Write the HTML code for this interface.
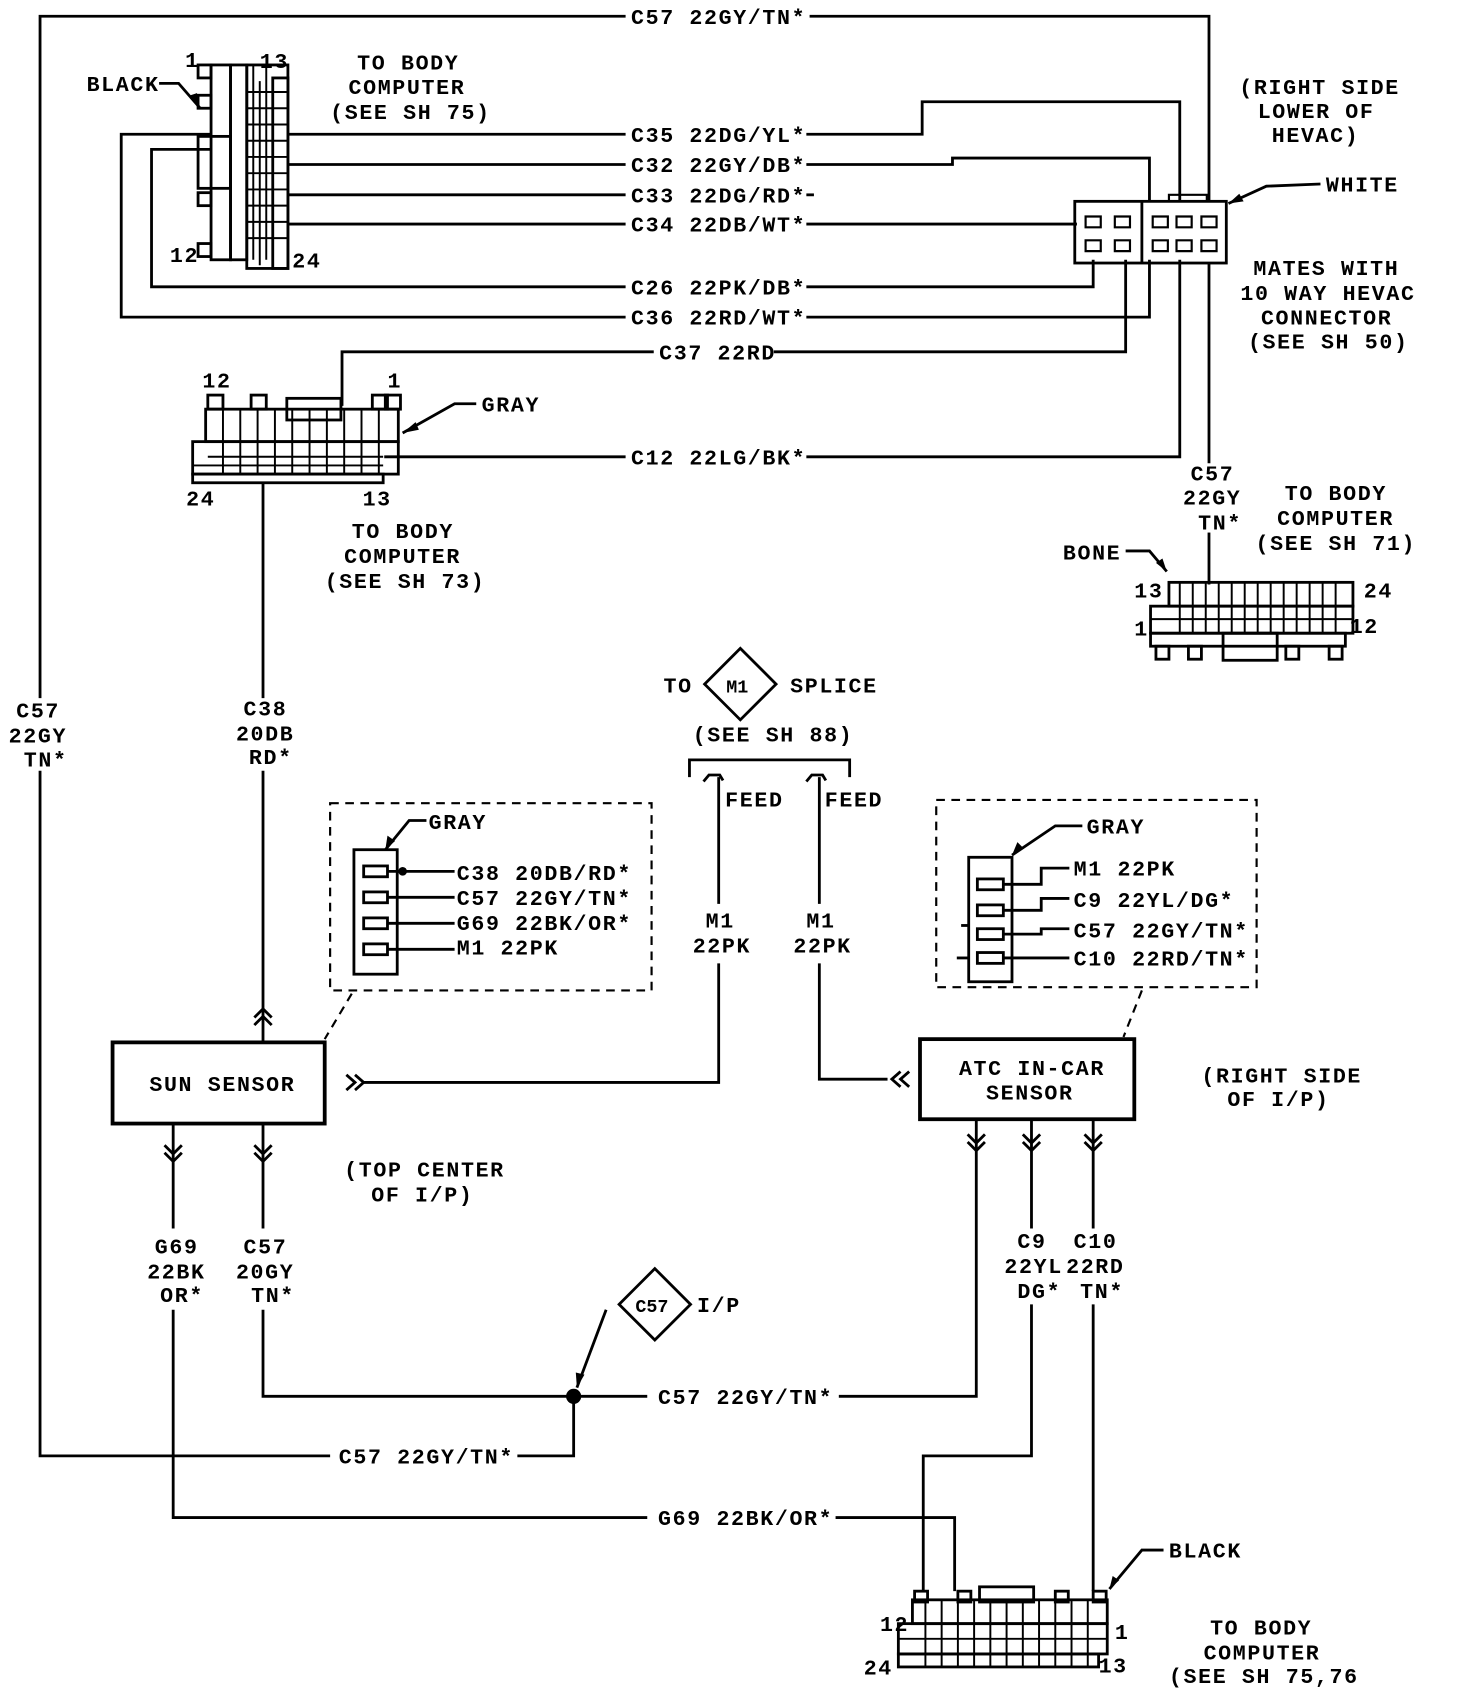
<!DOCTYPE html>
<html><head><meta charset="utf-8"><style>
html,body{margin:0;padding:0;background:#fff}
svg{display:block}
text{font-family:"Liberation Mono",monospace;font-size:20px;font-weight:bold;letter-spacing:1.5px;fill:#000}
</style></head><body>
<svg width="1472" height="1694" viewBox="0 0 1360 1565" preserveAspectRatio="none" xmlns="http://www.w3.org/2000/svg">
<rect width="1360" height="1565" fill="#fff"/>
<g fill="none" stroke="#000" stroke-width="2.6">
<polyline points="578,15 37,15 37,645"/>
<polyline points="748,15 1117,15 1117,185"/>
<polyline points="37,712 37,1345 305,1345"/>
<polyline points="478,1345 530,1345 530,1290"/>
<line x1="265" y1="124" x2="578" y2="124"/><polyline points="745,124 852,124 852,94 1090,94 1090,185"/>
<line x1="265" y1="152" x2="578" y2="152"/><polyline points="745,152 880,152 880,146 1062,146 1062,185"/>
<line x1="265" y1="180" x2="578" y2="180"/><line x1="745" y1="180" x2="752" y2="180"/>
<line x1="265" y1="207" x2="578" y2="207"/><line x1="745" y1="207" x2="995" y2="207"/>
<polyline points="578,265 140,265 140,138 195,138"/><polyline points="745,265 1010,265 1010,240"/>
<polyline points="578,293 112,293 112,124 195,124"/><polyline points="745,293 1062,293 1062,240"/>
<polyline points="316,375 316,325 604,325"/><polyline points="715,325 1040,325 1040,240"/>
<polyline points="355,422 578,422"/><polyline points="745,422 1090,422 1090,240"/>
<line x1="1117" y1="243" x2="1117" y2="428"/><line x1="1117" y1="492" x2="1117" y2="540"/>
<line x1="243" y1="445" x2="243" y2="645"/><line x1="243" y1="712" x2="243" y2="963"/>
<polyline points="235,940 243,932 251,940"/><polyline points="235,947 243,939 251,947"/>
<rect x="104" y="963" width="196" height="75" stroke-width="3.5"/>
<polyline points="320,993 328,1000 320,1007"/><polyline points="328,993 336,1000 328,1007"/>
<polyline points="336,1000 664,1000 664,890"/>
<polyline points="637,718 637,702 785,702 785,718"/>
<path d="M650,722 l5,-6 l10,0 l3,5"/><path d="M745,722 l5,-6 l10,0 l3,5"/>
<line x1="664" y1="718" x2="664" y2="835"/>
<line x1="757" y1="718" x2="757" y2="835"/><polyline points="757,890 757,997 820,997"/>
<polyline points="832,990 824,997 832,1004"/><polyline points="840,990 832,997 840,1004"/>
<rect x="850" y="960" width="198" height="74" stroke-width="3.5"/>
<polyline points="152,1058 160,1066 168,1058"/><polyline points="152,1065 160,1073 168,1065"/>
<line x1="160" y1="1038" x2="160" y2="1135"/><polyline points="160,1210 160,1402 598,1402"/>
<polyline points="772,1402 882,1402 882,1470"/>
<polyline points="235,1058 243,1066 251,1058"/><polyline points="235,1065 243,1073 251,1065"/>
<line x1="243" y1="1038" x2="243" y2="1135"/><polyline points="243,1210 243,1290 598,1290"/>
<polyline points="775,1290 902,1290 902,1034"/>
<polyline points="894,1048 902,1056 910,1048"/><polyline points="894,1055 902,1063 910,1055"/>
<line x1="953" y1="1034" x2="953" y2="1135"/><polyline points="953,1205 953,1345 853,1345 853,1470"/>
<polyline points="945,1048 953,1056 961,1048"/><polyline points="945,1055 953,1063 961,1055"/>
<line x1="1010" y1="1034" x2="1010" y2="1135"/><line x1="1010" y1="1205" x2="1010" y2="1470"/>
<polyline points="1002,1048 1010,1056 1018,1048"/><polyline points="1002,1055 1010,1063 1018,1055"/>
<polygon points="684,599 717,632 684,665 651,632"/>
<polygon points="605,1172 638,1205 605,1238 572,1205"/>
<line x1="560" y1="1210" x2="533" y2="1282"/>
<rect x="305" y="742" width="297" height="173" stroke-dasharray="8,6" stroke-width="2"/>
<rect x="865" y="739" width="296" height="173" stroke-dasharray="8,6" stroke-width="2"/>
<line x1="325" y1="918" x2="300" y2="960" stroke-dasharray="8,6" stroke-width="2"/>
<line x1="1055" y1="915" x2="1038" y2="958" stroke-dasharray="8,6" stroke-width="2"/>
<rect x="327" y="785" width="40" height="115"/>
<rect x="336" y="800" width="22" height="10"/><rect x="336" y="824" width="22" height="10"/><rect x="336" y="848" width="22" height="10"/><rect x="336" y="872" width="22" height="10"/>
<line x1="358" y1="805" x2="420" y2="805"/><line x1="358" y1="829" x2="420" y2="829"/><line x1="358" y1="853" x2="420" y2="853"/><line x1="358" y1="877" x2="420" y2="877"/>
<polyline points="394,758 378,758 356,785"/>
<rect x="895" y="792" width="40" height="115"/>
<rect x="903" y="812" width="24" height="10"/><rect x="903" y="836" width="24" height="10"/><rect x="903" y="858" width="24" height="10"/><rect x="903" y="880" width="24" height="10"/>
<polyline points="927,817 962,817 962,802 988,802"/><polyline points="927,841 962,841 962,830 988,830"/>
<polyline points="927,863 962,863 962,858 988,858"/><line x1="927" y1="885" x2="988" y2="885"/>
<polyline points="1000,763 975,763 935,790"/>
<line x1="888" y1="855" x2="895" y2="855"/><line x1="884" y1="885" x2="895" y2="885"/>
<polyline points="147,77 165,77 185,100"/>
<polyline points="440,373 420,373 372,400"/>
<polyline points="1220,170 1170,172 1135,188"/>
<polyline points="1040,509 1062,509 1078,528"/>
<polyline points="1075,1432 1055,1432 1025,1468"/>
<rect x="195" y="60" width="18" height="180"/><rect x="213" y="60" width="15" height="180"/>
<rect x="228" y="60" width="38" height="188"/><rect x="252" y="72" width="14" height="176"/>
<rect x="183" y="60" width="12" height="12"/><rect x="183" y="88" width="12" height="12"/><rect x="183" y="178" width="12" height="12"/><rect x="183" y="225" width="12" height="12"/>
<rect x="183" y="126" width="30" height="48"/>
<rect x="190" y="378" width="178" height="30"/><rect x="178" y="408" width="190" height="30"/><rect x="178" y="438" width="176" height="8"/>
<rect x="192" y="365" width="14" height="13"/><rect x="232" y="365" width="14" height="13"/><rect x="344" y="365" width="14" height="13"/><rect x="356" y="365" width="14" height="13"/>
<rect x="265" y="368" width="50" height="20"/>
<rect x="993" y="186" width="140" height="57"/><line x1="1055" y1="186" x2="1055" y2="243"/>
<rect x="1080" y="538" width="170" height="22"/><rect x="1063" y="560" width="187" height="25"/><rect x="1063" y="585" width="180" height="12"/>
<rect x="1068" y="597" width="12" height="12"/><rect x="1098" y="597" width="12" height="12"/><rect x="1130" y="585" width="50" height="25"/><rect x="1188" y="597" width="12" height="12"/><rect x="1228" y="597" width="12" height="12"/>
<rect x="843" y="1478" width="180" height="22"/><rect x="830" y="1500" width="193" height="28"/><rect x="830" y="1528" width="185" height="12"/>
<rect x="845" y="1470" width="12" height="10"/><rect x="885" y="1470" width="12" height="10"/><rect x="905" y="1466" width="50" height="14"/><rect x="975" y="1470" width="12" height="10"/><rect x="1010" y="1470" width="12" height="10"/>
</g>
<g stroke="#000" stroke-width="1.8">
<path d="M234,60V240M246,60V240M240,75V245M228,85H266M228,100H266M228,115H266M228,130H266M228,145H266M228,160H266M228,175H266M228,190H266M228,205H266M228,220H266"/>
<path d="M206,378V438M222,378V438M238,378V438M254,378V438M270,378V438M286,378V438M302,378V438M318,378V438M334,378V438M350,378V438M190,408H368M192,422H354M178,430H354"/>
<path d="M1090,538V585M1102,538V585M1114,538V585M1126,538V585M1138,538V585M1150,538V585M1162,538V585M1174,538V585M1186,538V585M1198,538V585M1210,538V585M1222,538V585M1234,538V585M1063,560H1250M1063,572H1250"/>
<path d="M855,1478V1540M870,1478V1540M885,1478V1540M900,1478V1540M915,1478V1540M930,1478V1540M945,1478V1540M960,1478V1540M975,1478V1540M990,1478V1540M1005,1478V1540M830,1500H1023M830,1514H1023"/>
</g>
<g fill="none" stroke="#000" stroke-width="2">
<path d="M1003,200h14v10h-14zM1030,200h14v10h-14zM1065,200h14v10h-14zM1087,200h14v10h-14zM1110,200h14v10h-14z"/>
<path d="M1003,222h14v10h-14zM1030,222h14v10h-14zM1065,222h14v10h-14zM1087,222h14v10h-14zM1110,222h14v10h-14z"/>
<path d="M1080,186v-6h35v6"/>
</g>
<circle cx="530" cy="1290" r="7" fill="#000"/>
<circle cx="372" cy="805" r="4" fill="#000"/>
<polygon points="185,100 176,88 182,86" fill="#000"/>
<polygon points="372,400 384,390 387,397" fill="#000"/>
<polygon points="1135,188 1145,179 1149,186" fill="#000"/>
<polygon points="1078,528 1068,520 1074,516" fill="#000"/>
<polygon points="1025,1468 1028,1456 1034,1460" fill="#000"/>
<polygon points="356,785 358,772 365,777" fill="#000"/>
<polygon points="935,790 940,778 946,784" fill="#000"/>
<polygon points="533,1282 532,1268 540,1270" fill="#000"/>
<text x="583" y="22">C57 22GY/TN*</text>
<text x="80" y="84">BLACK</text>
<text x="171" y="62">1</text><text x="240" y="63">13</text>
<text x="157" y="242">12</text><text x="270" y="247">24</text>
<text x="330" y="64">TO BODY</text><text x="322" y="87">COMPUTER</text><text x="305" y="110">(SEE SH 75)</text>
<text x="583" y="131">C35 22DG/YL*</text>
<text x="583" y="159">C32 22GY/DB*</text>
<text x="583" y="187">C33 22DG/RD*</text>
<text x="583" y="214">C34 22DB/WT*</text>
<text x="583" y="272">C26 22PK/DB*</text>
<text x="583" y="300">C36 22RD/WT*</text>
<text x="609" y="332">C37 22RD</text>
<text x="583" y="429">C12 22LG/BK*</text>
<text x="1145" y="87">(RIGHT SIDE</text><text x="1162" y="109">LOWER OF</text><text x="1175" y="131">HEVAC)</text>
<text x="1225" y="177">WHITE</text>
<text x="1158" y="254">MATES WITH</text><text x="1146" y="277">10 WAY HEVAC</text><text x="1165" y="300">CONNECTOR</text><text x="1153" y="322">(SEE SH 50)</text>
<text x="187" y="358">12</text><text x="358" y="358">1</text>
<text x="445" y="380">GRAY</text>
<text x="172" y="467">24</text><text x="335" y="467">13</text>
<text x="325" y="497">TO BODY</text><text x="318" y="520">COMPUTER</text><text x="300" y="543">(SEE SH 73)</text>
<text x="1100" y="444">C57</text><text x="1093" y="466">22GY</text><text x="1107" y="489">TN*</text>
<text x="1187" y="462">TO BODY</text><text x="1180" y="485">COMPUTER</text><text x="1160" y="508">(SEE SH 71)</text>
<text x="982" y="517">BONE</text>
<text x="1048" y="552">13</text><text x="1260" y="552">24</text>
<text x="1048" y="587">1</text><text x="1247" y="585">12</text>
<text x="15" y="663">C57</text><text x="8" y="686">22GY</text><text x="22" y="708">TN*</text>
<text x="225" y="661">C38</text><text x="218" y="684">20DB</text><text x="230" y="706">RD*</text>
<text x="613" y="640">TO</text><text x="671" y="640" style="font-size:17px;letter-spacing:0">M1</text><text x="730" y="640">SPLICE</text>
<text x="640" y="685">(SEE SH 88)</text>
<text x="670" y="745">FEED</text><text x="762" y="745">FEED</text>
<text x="652" y="857">M1</text><text x="640" y="880">22PK</text>
<text x="745" y="857">M1</text><text x="733" y="880">22PK</text>
<text x="396" y="766">GRAY</text>
<text x="422" y="813">C38 20DB/RD*</text>
<text x="422" y="836">C57 22GY/TN*</text>
<text x="422" y="859">G69 22BK/OR*</text>
<text x="422" y="882">M1 22PK</text>
<text x="1004" y="770">GRAY</text>
<text x="992" y="809">M1 22PK</text>
<text x="992" y="838">C9 22YL/DG*</text>
<text x="992" y="866">C57 22GY/TN*</text>
<text x="992" y="892">C10 22RD/TN*</text>
<text x="138" y="1008">SUN SENSOR</text>
<text x="886" y="993">ATC IN-CAR</text><text x="911" y="1016">SENSOR</text>
<text x="1110" y="1000">(RIGHT SIDE</text><text x="1134" y="1022">OF I/P)</text>
<text x="318" y="1087">(TOP CENTER</text><text x="343" y="1110">OF I/P)</text>
<text x="143" y="1158">G69</text><text x="136" y="1181">22BK</text><text x="148" y="1203">OR*</text>
<text x="225" y="1158">C57</text><text x="218" y="1181">20GY</text><text x="232" y="1203">TN*</text>
<text x="940" y="1153">C9</text><text x="992" y="1153">C10</text>
<text x="928" y="1176">22YL</text><text x="985" y="1176">22RD</text>
<text x="940" y="1199">DG*</text><text x="998" y="1199">TN*</text>
<text x="587" y="1212" style="font-size:17px;letter-spacing:0">C57</text><text x="644" y="1212">I/P</text>
<text x="608" y="1297">C57 22GY/TN*</text>
<text x="313" y="1352">C57 22GY/TN*</text>
<text x="608" y="1409">G69 22BK/OR*</text>
<text x="1080" y="1439">BLACK</text>
<text x="813" y="1507">12</text><text x="1030" y="1514">1</text>
<text x="798" y="1547">24</text><text x="1015" y="1545">13</text>
<text x="1118" y="1510">TO BODY</text><text x="1112" y="1533">COMPUTER</text><text x="1080" y="1555">(SEE SH 75,76</text>
</svg>
</body></html>
